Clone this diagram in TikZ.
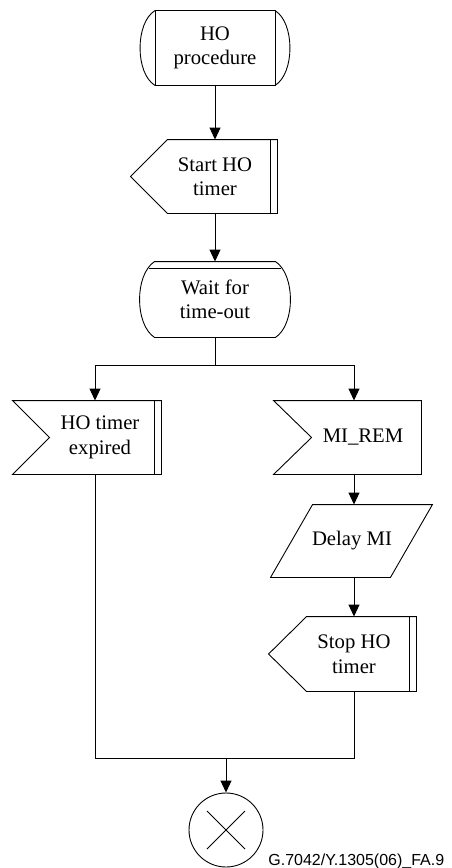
\documentclass[tikz,border=0pt]{standalone}
\usepackage{fontspec}
\setmainfont{Liberation Serif}
\newfontfamily\figfont{Liberation Sans}
\usetikzlibrary{arrows.meta}

\begin{document}
\begin{tikzpicture}[>={Triangle[length=12pt,width=11pt]}, x=1pt, y=-1pt, line width=0.9pt]
\tikzstyle{every node}=[font=\fontsize{20.7}{24.5}\selectfont, align=center]
\tikzstyle{box}=[inner sep=0pt, minimum height=73pt]
\useasboundingbox (0,0) rectangle (452,868);

\node[box, minimum width=119pt, minimum height=74pt] (proc) at (215,48) {HO\\procedure};
\node[box, minimum width=124pt] (start) at (215,176.5) {Start HO\\timer};
\node[box, minimum width=120pt, minimum height=75pt] (wait) at (215,299.5) {Wait for\\time-out};
\node[box, minimum width=122pt] (expd) at (100,437.5) {HO timer\\expired};
\node[box, minimum width=116pt] (rem) at (363,437.5) {MI\_REM};
\node[box, minimum width=119pt, minimum height=72pt] (delay) at (352,541) {Delay MI};
\node[box, minimum width=124pt, minimum height=74pt] (stop) at (354,654) {Stop HO\\timer};
\node[circle, draw, minimum size=74pt, inner sep=0pt] (end) at (226,830) {};
\node[font=\figfont\fontsize{16}{18}\selectfont, anchor=base east] (fig) at (448,865) {G.7042/Y.1305(06)\_FA.9};

\draw (proc.north west) rectangle (proc.south east);
\draw (proc.north west) .. controls +(-20,12) and +(-20,-12) .. (proc.south west);
\draw (proc.north east) .. controls +(20,12) and +(20,-12) .. (proc.south east);

\draw (start.north east) -- (start.south east) -- ([xshift=15pt]start.south west)
  -- ([xshift=-22pt]start.west) -- ([xshift=15pt]start.north west) -- cycle;
\draw ([xshift=-7pt]start.north east) -- ([xshift=-7pt]start.south east);

\draw (wait.north west) -- (wait.north east) .. controls +(20,13) and +(20,-13) .. (wait.south east)
  -- (wait.south west) .. controls +(-20,-13) and +(-20,13) .. (wait.north west) -- cycle;
\draw ([xshift=-6pt,yshift=-7pt]wait.north west) -- ([xshift=6pt,yshift=-7pt]wait.north east);

\draw ([xshift=-26pt]expd.north west) -- (expd.north east) -- (expd.south east)
  -- ([xshift=-26pt]expd.south west) -- ([xshift=11pt]expd.west) -- cycle;
\draw ([xshift=-7pt]expd.north east) -- ([xshift=-7pt]expd.south east);

\draw ([xshift=-31pt]rem.north west) -- (rem.north east) -- (rem.south east)
  -- ([xshift=-31pt]rem.south west) -- ([xshift=7pt]rem.west) -- cycle;

\draw ([xshift=20.5pt]delay.north west) -- ([xshift=20.5pt]delay.north east)
  -- ([xshift=-21.5pt]delay.south east) -- ([xshift=-21.5pt]delay.south west) -- cycle;

\draw (stop.north east) -- (stop.south east) -- ([xshift=15pt]stop.south west)
  -- ([xshift=-23pt]stop.west) -- ([xshift=15pt]stop.north west) -- cycle;
\draw ([xshift=-7pt]stop.north east) -- ([xshift=-7pt]stop.south east);

\draw ([xshift=-19pt,yshift=19pt]end.center) -- ([xshift=19pt,yshift=-19pt]end.center);
\draw ([xshift=19pt,yshift=19pt]end.center) -- ([xshift=-19pt,yshift=-19pt]end.center);

\coordinate (sl) at (95,365);
\coordinate (sr) at (354,365);
\coordinate (jl) at (95,758);
\coordinate (jr) at (354,758);

\draw[->] (proc.south) -- (start.north);
\draw[->] (start.south) -- (wait.north);
\draw (wait.south) -- (wait.south |- sl);
\draw (sl) -- (sr);
\draw[->] (sl) -- (sl |- expd.north);
\draw[->] (sr) -- (sr |- rem.north);
\draw[->] (rem.south -| sr) -- (delay.north -| sr);
\draw[->] (delay.south -| sr) -- (stop.north -| sr);
\draw (expd.south -| jl) -- (jl) -- (jr) -- (stop.south -| jr);
\draw[->] (end.north |- jl) -- (end);
\end{tikzpicture}
\end{document}
